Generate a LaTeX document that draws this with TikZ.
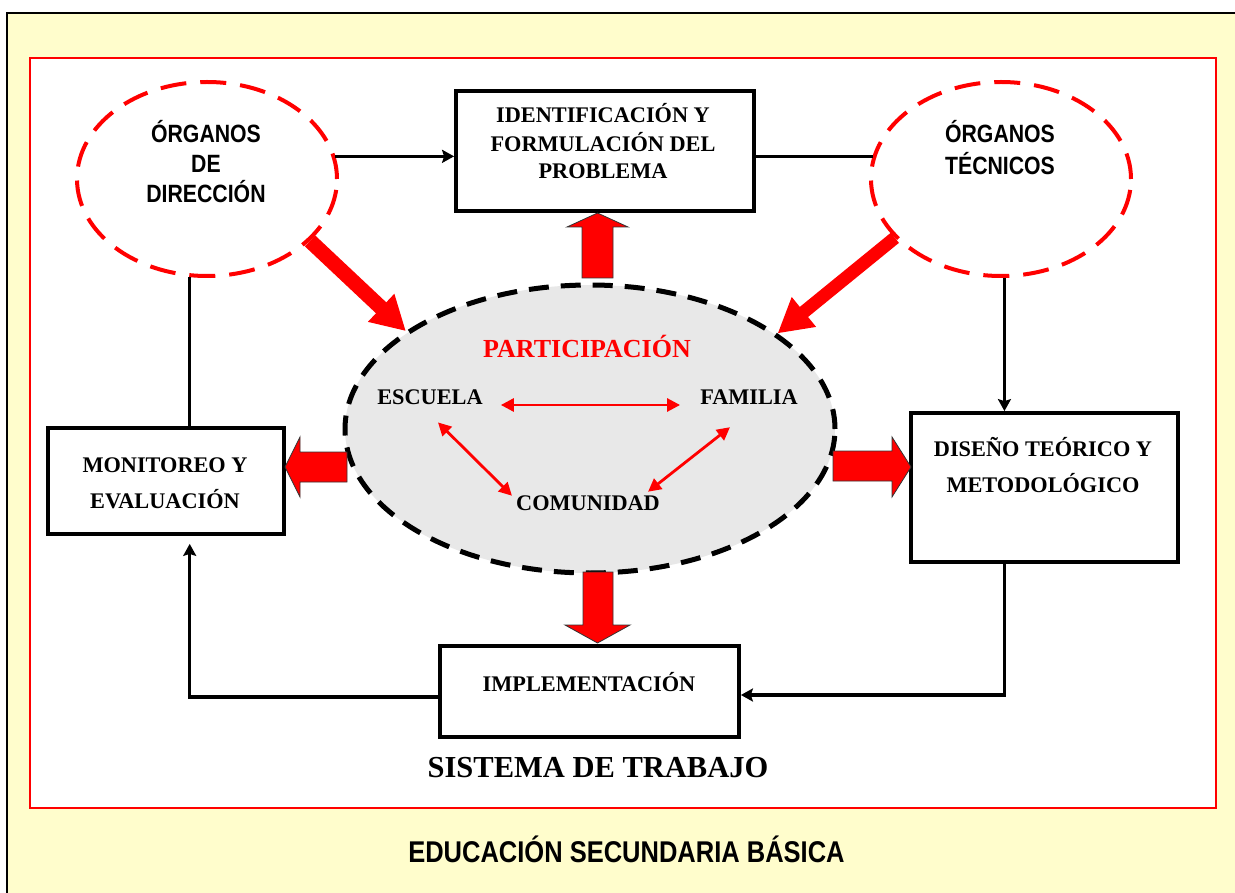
\documentclass[tikz,border=0pt]{standalone}
\usepackage{fontspec}
\setmainfont{Liberation Serif}
\newfontfamily\narrowsans{Liberation Sans}[FakeStretch=0.85]
\usetikzlibrary{arrows.meta,shapes.geometric,calc}
\definecolor{bgyellow}{HTML}{FFFDCC}
\definecolor{ellgray}{HTML}{E8E8E8}
\begin{document}
\begin{tikzpicture}[x=1pt,y=-1pt,
  box/.style={draw=black,line width=3.8pt,fill=white,inner sep=0pt,rectangle},
  st/.style={font=\fontsize{22.3}{26}\selectfont\bfseries,inner sep=0pt,anchor=base},
  ss/.style={font=\narrowsans\fontsize{25}{28}\selectfont\bfseries,inner sep=0pt,anchor=base},
  redell/.style={ellipse,draw=red,line width=4pt,dash pattern=on 26pt off 14pt,inner sep=0pt,minimum width=260pt,minimum height=194pt},
  conn/.style={line width=3.5pt,-{Stealth[length=12pt,width=13pt,inset=2pt]}},
  plainline/.style={line width=3.5pt},
  dbl/.style={red,line width=2.8pt,{Triangle[length=13pt,width=13pt]}-{Triangle[length=13pt,width=13pt]}},
  blk/.style={fill=red,draw=black!80,line width=0.8pt},
  diag/.style={red,line width=#1pt,-{Triangle[length=34pt,width=36pt]}},
]
\useasboundingbox (0,0) rectangle (1235,893);
% background and frames
\fill[bgyellow] (7,13) rectangle (1235,893);
\draw[line width=2pt] (7,893) -- (7,13) -- (1235,13);
\draw[red,line width=1.8pt,fill=white] (30,58) rectangle (1216,808);

% boxes
\node[box,minimum width=298pt,minimum height=120pt] (idf) at (605,151) {};
\node[box,minimum width=236pt,minimum height=106pt] (mon) at (166,481) {};
\node[box,minimum width=267pt,minimum height=149pt] (dis) at (1044.5,487.5) {};
\node[box,minimum width=299pt,minimum height=91pt] (imp) at (589.5,691.5) {};

\node[st] (idf1) at (603,123) {IDENTIFICACIÓN Y};
\node[st] (idf2) at (603,152) {FORMULACIÓN DEL};
\node[st] (idf3) at (603,179) {PROBLEMA};
\node[st] (mon1) at (165,472) {MONITOREO Y};
\node[st] (mon2) at (165,508) {EVALUACIÓN};
\node[st] (dis1) at (1043,456) {DISEÑO TEÓRICO Y};
\node[st] (dis2) at (1043,492) {METODOLÓGICO};
\node[st] (imp1) at (589,691) {IMPLEMENTACIÓN};

% outer ellipses
\node[redell] (dir) at (207,179) {};
\node[redell] (tec) at (1001,179) {};
\node[ss] (dirt1) at (206,143) {ÓRGANOS};
\node[ss] (dirt2) at (206,173) {DE};
\node[ss] (dirt3) at (206,203) {DIRECCIÓN};
\node[ss] (tect1) at (1000,143) {ÓRGANOS};
\node[ss] (tect2) at (1000,175) {TÉCNICOS};

% central ellipse
\node[ellipse,draw=black,fill=ellgray,line width=5pt,dash pattern=on 20pt off 12pt,inner sep=0pt,minimum width=490pt,minimum height=288pt] (part) at (590,429) {};
\node[st,font=\fontsize{26}{30}\selectfont\bfseries,text=red] (partt) at (587,358) {PARTICIPACIÓN};
\node[st] (esc) at (430,405) {ESCUELA};
\node[st] (fam) at (749,405) {FAMILIA};
\node[st] (com) at (588,510) {COMUNIDAD};

\draw[dbl,shorten <=18pt,shorten >=20pt] (esc.base east) -- (fam.base west);
\draw[dbl] ($(esc.south)+(8,17)$) -- ($(com.west)+(-4,-7)$);
\draw[dbl] ($(fam.south)+(-19,22)$) -- ($(com.east)+(-12,-11)$);

% thin connectors
\draw[conn] (dir.10) -- (dir.10 -| idf.west);
\draw[plainline] (tec.170 -| idf.east) -- (tec.170);
\draw[plainline] (dir.260) -- (dir.260 |- mon.north);
\draw[conn] (tec.272) -- (tec.272 |- dis.north);
\draw[conn] (tec.272 |- dis.south) |- ([yshift=-3.5pt]imp.east);
\draw[conn,shorten >=8pt] ([yshift=-5.5pt]imp.west) -| (dir.260 |- mon.south);

% block arrows
\draw[blk] (582,278) -- (582,227) -- (567,227) -- (597.5,213) -- (628,227) -- (613,227) -- (613,278) -- cycle;
\draw[blk] (583,572) -- (583,625) -- (565,625) -- (597.5,643) -- (630,625) -- (613,625) -- (613,572) -- cycle;
\draw[blk] (347,452) -- (300,452) -- (300,437) -- (285,467) -- (300,497) -- (300,482) -- (347,482) -- cycle;
\draw[blk] (833,451) -- (892,451) -- (892,437) -- (911,467) -- (892,497) -- (892,481) -- (833,481) -- cycle;

% diagonal arrows
\draw[diag=15] (dir.-31) -- (part.152);
\draw[diag=13] (tec.209) -- (part.27.5);

% titles
\node[anchor=base,inner sep=0pt,font=\fontsize{30.5}{34}\selectfont\bfseries] (title) at (598,777) {SISTEMA DE TRABAJO};
\node[anchor=base,inner sep=0pt,font=\narrowsans\fontsize{30}{34}\selectfont\bfseries] (foot) at (626.5,862) {EDUCACIÓN SECUNDARIA BÁSICA};
\end{tikzpicture}
\end{document}
